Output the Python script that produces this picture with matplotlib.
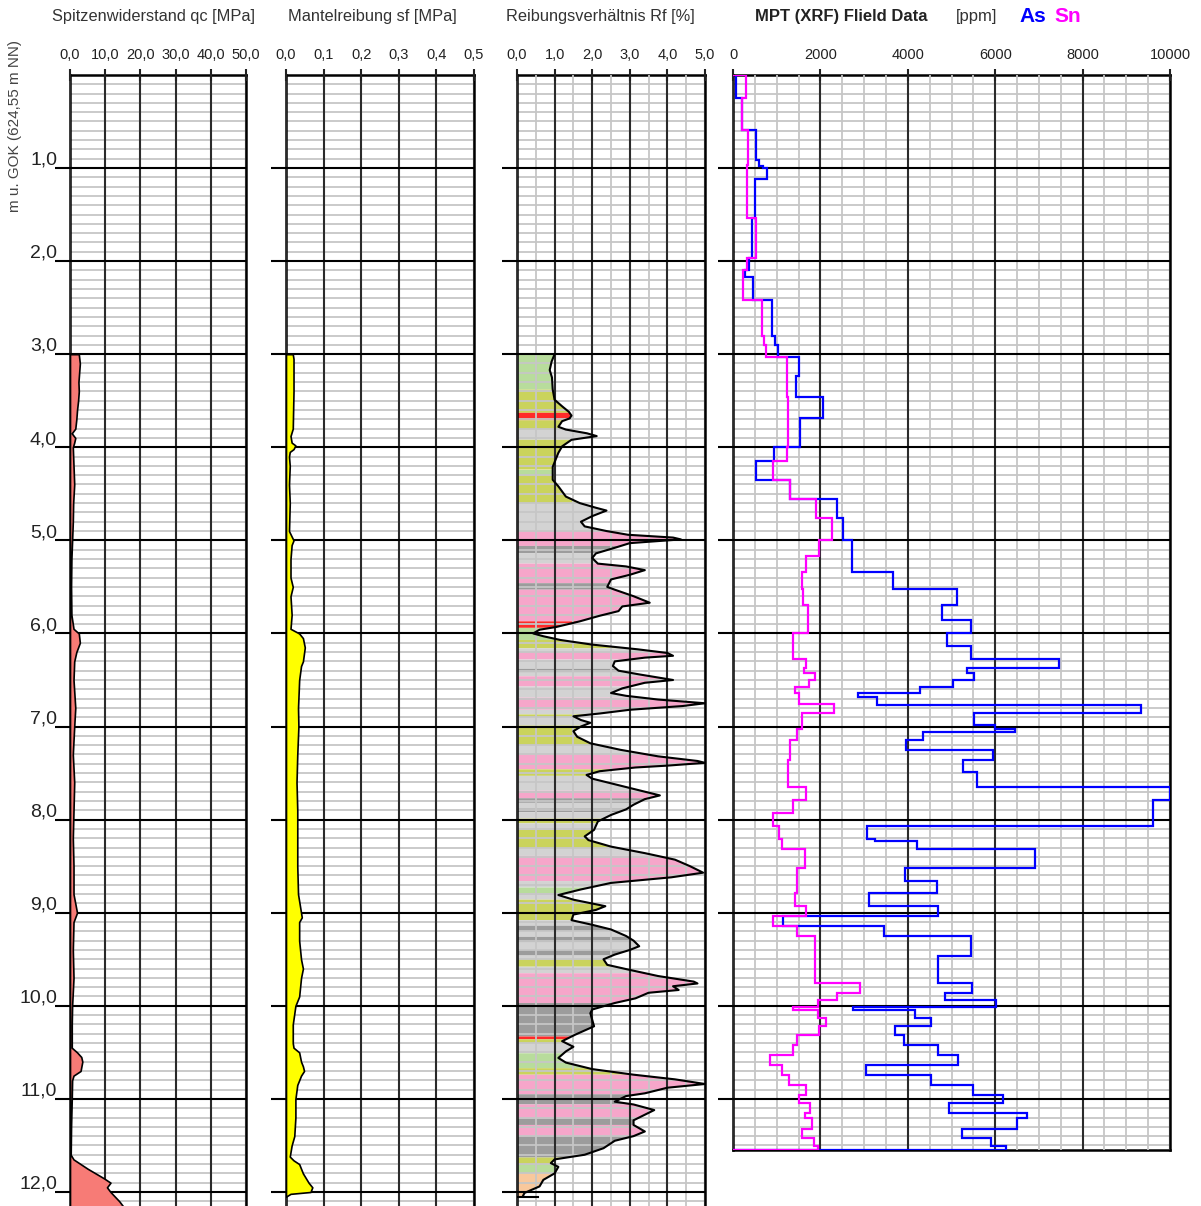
import numpy as np
import matplotlib.pyplot as plt
from matplotlib.transforms import blended_transform_factory

plt.rcParams['font.family'] = ['Liberation Sans', 'DejaVu Sans']

# ---- data (depth in m below ground) ----
qc_depth = [3.0, 3.1, 3.2, 3.3, 3.4, 3.5, 3.6, 3.7, 3.8, 3.85, 3.9, 3.95, 4.0, 4.2, 4.4, 4.6, 4.8,
            5.0, 5.2, 5.5, 5.8, 5.95, 6.0, 6.1, 6.2, 6.3, 6.5, 6.8, 7.0, 7.3, 7.6, 7.9, 8.2, 8.5,
            8.8, 9.0, 9.1, 9.4, 9.7, 10.0, 10.2, 10.45, 10.5, 10.55, 10.6, 10.7, 10.75, 10.8, 11.0,
            11.3, 11.6, 11.65, 11.75, 11.85, 11.9, 11.95, 12.0, 12.1, 12.2]
qc_val = [2.5, 2.8, 2.6, 2.4, 2.5, 2.3, 2.0, 1.8, 1.5, 0.5, 1.5, 1.2, 0.8, 1.0, 1.2, 0.9, 0.8,
          0.6, 0.4, 0.3, 0.4, 1.0, 2.5, 2.8, 1.8, 1.2, 1.0, 1.5, 1.2, 0.8, 1.2, 1.0, 0.8, 1.0,
          1.0, 2.0, 1.0, 0.8, 1.0, 0.6, 0.5, 0.5, 2.0, 3.2, 3.5, 3.0, 1.0, 0.6, 0.5,
          0.3, 0.2, 1.0, 5.0, 9.5, 11.5, 10.5, 11.5, 14.0, 16.0]

sf_depth = [3.0, 3.05, 3.4, 3.8, 3.88, 3.95, 3.98, 4.02, 4.05, 4.1, 4.2, 4.4, 4.6, 4.9, 5.0, 5.05,
            5.2, 5.4, 5.5, 5.6, 5.8, 5.95, 6.0, 6.05, 6.15, 6.3, 6.35, 6.5, 6.8, 7.0, 7.3, 7.6,
            7.9, 8.2, 8.5, 8.8, 9.0, 9.05, 9.1, 9.3, 9.5, 9.6, 9.7, 9.9, 10.0, 10.2, 10.4, 10.45,
            10.5, 10.6, 10.65, 10.7, 10.75, 10.85, 11.0, 11.2, 11.4, 11.5, 11.62, 11.66, 11.7,
            11.8, 11.9, 11.95, 12.0, 12.02, 12.05]
sf_val = [0.018, 0.020, 0.020, 0.018, 0.012, 0.015, 0.025, 0.020, 0.010, 0.008, 0.010, 0.008,
          0.010, 0.008, 0.020, 0.015, 0.012, 0.012, 0.018, 0.012, 0.015, 0.012, 0.035, 0.045,
          0.050, 0.045, 0.040, 0.035, 0.032, 0.033, 0.030, 0.028, 0.030, 0.030, 0.030, 0.032,
          0.040, 0.042, 0.035, 0.035, 0.040, 0.045, 0.040, 0.035, 0.025, 0.018, 0.018, 0.020,
          0.035, 0.040, 0.045, 0.048, 0.040, 0.030, 0.025, 0.025, 0.022, 0.015, 0.010, 0.020,
          0.035, 0.045, 0.060, 0.070, 0.065, 0.012, 0.0]

rf_depth = [3.00, 3.08, 3.17, 3.25, 3.38, 3.49, 3.56, 3.62, 3.66, 3.69, 3.72, 3.78, 3.81, 3.85,
            3.88, 3.92, 3.99, 4.06, 4.21, 4.35, 4.42, 4.53, 4.60, 4.65, 4.68, 4.74, 4.80, 4.85,
            4.90, 4.94, 4.97, 4.99, 5.03, 5.08, 5.14, 5.19, 5.25, 5.28, 5.32, 5.37, 5.42, 5.50,
            5.53, 5.60, 5.67, 5.71, 5.76, 5.81, 5.87, 5.93, 5.96, 6.00, 6.03, 6.07, 6.12, 6.17,
            6.21, 6.24, 6.26, 6.30, 6.35, 6.40, 6.44, 6.50, 6.53, 6.59, 6.64, 6.67, 6.71, 6.75,
            6.78, 6.82, 6.86, 6.89, 6.93, 6.96, 7.00, 7.05, 7.11, 7.18, 7.25, 7.32, 7.37, 7.39,
            7.42, 7.44, 7.48, 7.52, 7.56, 7.61, 7.68, 7.74, 7.78, 7.84, 7.89, 7.95, 8.02, 8.11,
            8.18, 8.22, 8.29, 8.36, 8.43, 8.50, 8.57, 8.62, 8.68, 8.75, 8.81, 8.86, 8.93, 8.97,
            9.02, 9.08, 9.13, 9.18, 9.25, 9.30, 9.36, 9.40, 9.45, 9.50, 9.56, 9.61, 9.68, 9.74,
            9.76, 9.79, 9.83, 9.86, 9.92, 9.97, 10.04, 10.08, 10.15, 10.22, 10.31, 10.35, 10.38,
            10.44, 10.49, 10.56, 10.61, 10.68, 10.74, 10.79, 10.84, 10.88, 10.94, 10.97, 11.03,
            11.06, 11.12, 11.17, 11.23, 11.28, 11.35, 11.40, 11.45, 11.53, 11.60, 11.65, 11.69,
            11.73, 11.80, 11.87, 11.94, 12.01, 12.05]
rf_val = [1.00, 0.92, 0.87, 0.93, 0.95, 1.00, 1.20, 1.38, 1.45, 1.40, 1.20, 1.10, 1.30, 1.86,
          2.12, 1.45, 1.20, 1.10, 0.95, 0.95, 1.10, 1.30, 1.67, 2.10, 2.38, 2.00, 1.70, 1.80,
          2.38, 2.95, 4.15, 4.36, 3.00, 2.60, 2.10, 2.00, 2.15, 2.90, 3.40, 3.00, 2.50, 2.40,
          2.60, 3.10, 3.53, 2.80, 2.70, 2.20, 1.67, 1.05, 0.60, 0.43, 0.70, 1.15, 2.00, 3.20,
          4.00, 4.15, 3.40, 2.60, 2.55, 2.70, 3.25, 4.15, 3.40, 2.80, 2.50, 2.90, 3.75, 5.00,
          4.40, 3.00, 2.20, 1.50, 1.70, 1.95, 1.70, 1.50, 1.60, 1.95, 2.75, 3.75, 4.80, 5.00,
          4.00, 3.15, 2.20, 1.85, 2.00, 2.50, 3.20, 3.80, 3.40, 3.10, 2.90, 2.50, 2.15, 2.05,
          1.80, 1.90, 2.50, 3.40, 4.20, 4.60, 4.95, 4.10, 2.50, 1.70, 1.10, 1.50, 2.35, 2.10,
          1.50, 1.45, 2.00, 2.50, 2.90, 3.10, 3.25, 3.00, 2.60, 2.30, 2.40, 2.95, 3.75, 4.70,
          4.80, 4.15, 4.30, 3.50, 3.15, 2.60, 2.00, 1.95, 2.00, 2.05, 1.55, 1.35, 1.20,
          1.50, 1.30, 1.10, 1.30, 2.00, 3.10, 4.20, 5.00, 4.00, 3.40, 2.90, 2.60,
          3.10, 3.65, 3.40, 3.10, 3.10, 3.40, 3.10, 2.60, 2.30, 1.80, 1.00, 0.90,
          1.10, 1.00, 0.70, 0.60, 0.20, 0.15]

# soil classes along the Rf log: top, bottom, class
band_top = [3.00, 3.38, 3.63, 3.71, 3.81, 3.92, 4.24, 4.30, 4.60, 4.90, 5.06, 5.14, 5.25, 5.46,
            5.53, 5.87, 5.94, 6.07, 6.16, 6.20, 6.28, 6.38, 6.42, 6.46, 6.57, 6.69, 6.82, 6.87,
            6.90, 6.99, 7.20, 7.30, 7.46, 7.53, 7.69, 7.77, 7.82, 7.88, 7.92, 7.99, 8.04, 8.11,
            8.31, 8.39, 8.66, 8.73, 8.79, 8.86, 9.08, 9.14, 9.20, 9.26, 9.32, 9.40, 9.46, 9.50,
            9.58, 9.65, 9.97, 10.33, 10.36, 10.40, 10.51, 10.67, 10.74, 10.95, 11.06, 11.21,
            11.28, 11.40, 11.63, 11.70, 11.80]
band_bottom = band_top[1:] + [12.05]
band_class = ['g', 'o', 'r', 'o', 'l', 'o', 'g', 'o', 'l', 'p', 'd', 'l', 'p', 'd',
              'p', 'r', 'g', 'o', 'l', 'p', 'l', 'd', 'l', 'p', 'l', 'p', 'l', 'o',
              'l', 'o', 'l', 'p', 'o', 'l', 'p', 'd', 'l', 'd', 'l', 'o', 'l', 'o',
              'l', 'p', 'l', 'g', 'l', 'o', 'l', 'd', 'l', 'd', 'l', 'd', 'l', 'o',
              'l', 'p', 'd', 'r', 'o', 'l', 'g', 'o', 'p', 'd', 'p', 'd',
              'p', 'd', 'o', 'g', 'a']
class_colors = {'g': '#b8dc9c', 'o': '#cad35c', 'r': '#ff2a2a', 'l': '#d3d3d3',
                'd': '#9c9c9c', 'p': '#f6a6ca', 'a': '#f8c89c'}

# XRF step data: top of each interval, last value ends at xrf_bottom
as_top = [0.0, 0.25, 0.59, 0.91, 0.975, 1.0, 1.12, 1.54, 1.97, 2.1, 2.17, 2.42, 2.8, 2.9, 3.03,
          3.23, 3.46, 3.69, 4.0, 4.15, 4.35, 4.56, 4.76, 5.0, 5.34, 5.52, 5.69, 5.86, 6.0, 6.14,
          6.27, 6.37, 6.43, 6.5, 6.58, 6.64, 6.68, 6.77, 6.85, 6.98, 7.03, 7.06, 7.14, 7.25,
          7.36, 7.49, 7.65, 7.79, 8.07, 8.21, 8.23, 8.32, 8.52, 8.66, 8.79, 8.93, 9.03, 9.14,
          9.25, 9.46, 9.76, 9.86, 9.94, 10.01, 10.05, 10.13, 10.22, 10.31, 10.42, 10.53, 10.64,
          10.74, 10.85, 10.96, 11.04, 11.15, 11.21, 11.32, 11.42, 11.51]
as_ppm = [60, 200, 520, 600, 680, 780, 500, 440, 365, 275, 460, 885, 960, 1035, 1510,
          1440, 2050, 1530, 940, 526, 1300, 2380, 2510, 2715, 3660, 5120, 4775, 5440, 4890, 5440,
          7460, 5360, 5510, 5030, 4280, 2860, 3300, 9330, 5520, 6000, 6450, 4340, 3970, 5950,
          5270, 5590, 10000, 9610, 3070, 3250, 4200, 6900, 3940, 4660, 3120, 4700, 1150, 3460,
          5440, 4680, 5460, 4850, 6020, 2740, 4165, 4530, 3710, 3910, 4690, 5140, 3040,
          4530, 5490, 6180, 4950, 6730, 6490, 5240, 5900, 6240]
sn_top = [0.0, 0.25, 0.59, 0.97, 1.54, 1.97, 2.1, 2.42, 2.8, 2.9, 3.03, 3.46, 4.0, 4.15, 4.35,
          4.56, 4.76, 5.0, 5.17, 5.34, 5.52, 5.69, 6.0, 6.27, 6.37, 6.43, 6.5, 6.58, 6.64, 6.76,
          6.85, 7.03, 7.14, 7.36, 7.65, 7.79, 7.93, 8.07, 8.21, 8.32, 8.52, 8.79, 8.93, 9.03,
          9.14, 9.25, 9.76, 9.86, 9.94, 10.01, 10.05, 10.13, 10.22, 10.31, 10.42, 10.53, 10.64,
          10.74, 10.85, 10.96, 11.04, 11.15, 11.21, 11.32, 11.42, 11.51]
sn_ppm = [300, 200, 350, 320, 526, 320, 230, 656, 700, 750, 1230, 1260, 1230, 908, 1300,
          1900, 2260, 1970, 1670, 1570, 1610, 1710, 1370, 1670, 1620, 1880, 1750, 1410, 1520, 2300,
          1570, 1460, 1300, 1270, 1670, 1370, 920, 1050, 1130, 1650, 1460, 1420, 1680, 920,
          1460, 1880, 2900, 2380, 1950, 1370, 1950, 2130, 1960, 1470, 1370, 850, 1130,
          1290, 1670, 1520, 1760, 1650, 1800, 1570, 1850, 1950]
xrf_bottom = 11.55

qc_ticks = ['0,0', '10,0', '20,0', '30,0', '40,0', '50,0']
sf_ticks = ['0,0', '0,1', '0,2', '0,3', '0,4', '0,5']
rf_ticks = ['0,0', '1,0', '2,0', '3,0', '4,0', '5,0']
xrf_ticks = ['0', '2000', '4000', '6000', '8000', '10000']
depth_labels = ['1,0', '2,0', '3,0', '4,0', '5,0', '6,0', '7,0', '8,0', '9,0', '10,0', '11,0', '12,0']

# ---- layout ----
W, H = 1201, 1206
fig = plt.figure(figsize=(W / 100, H / 100), dpi=100)
PXM = 93.09   # pixels per metre
Y0 = 74.9     # pixel row of depth 0


def depth_at(ypx):
    return (ypx - Y0) / PXM


def make_panel(xl, xr, yb, xmax, minor, labels):
    ax = fig.add_axes([xl / W, 1 - yb / H, (xr - xl) / W, (yb - Y0) / H])
    dmax = depth_at(yb)
    ax.set_axisbelow(False)
    ax.set_xticks(np.linspace(0, xmax, 6))
    ax.set_xticklabels(labels)
    ax.xaxis.tick_top()
    ax.tick_params(axis='x', which='major', direction='inout', length=8, width=1.5,
                   labelsize=10.5, pad=5, colors='#222222')
    ax.set_yticks(np.arange(1, int(dmax) + 1))
    ax.set_yticklabels([])
    ax.tick_params(axis='y', which='major', direction='out', length=11, width=1.5)
    ax.tick_params(axis='x', which='minor', length=0)
    # light 0.1 m lines kept under the vertical grid
    ax.hlines(np.arange(0.1, dmax, 0.1), 0, xmax, color='#c6c6c6', lw=1.3, zorder=1.5)
    ax.grid(axis='y', which='major', color='black', lw=1.5)
    ax.grid(axis='x', which='major', color='#2a2a2a', lw=1.5)
    if minor:
        ax.set_xticks(np.arange(0, xmax + 1e-9, minor), minor=True)
        ax.grid(axis='x', which='minor', color='#c6c6c6', lw=1.3)
    ax.set_xlim(0, xmax)
    ax.set_ylim(dmax, 0)
    for s in ax.spines.values():
        s.set_linewidth(1.8)
        s.set_color('black')
    return ax


ax_qc = make_panel(70, 246, H, 50, None, qc_ticks)
ax_sf = make_panel(286, 474, H, 0.5, None, sf_ticks)
ax_rf = make_panel(517, 705, H, 5.0, 0.5, rf_ticks)
ax_x = make_panel(733, 1170, 1150, 10000, 500, xrf_ticks)
for a in (ax_qc, ax_sf, ax_rf):
    a.spines['bottom'].set_visible(False)

# qc and sf fills
ax_qc.fill_betweenx(qc_depth, 0, qc_val, facecolor='#f77b76', edgecolor='black', lw=1.2, zorder=3)
ax_sf.fill_betweenx(sf_depth, 0, sf_val, facecolor='#ffff00', edgecolor='black', lw=1.2, zorder=3)

# Rf coloured by soil class
rd = np.array(rf_depth)
rv = np.array(rf_val)
for t, b, c in zip(band_top, band_bottom, band_class):
    inner = rd[(rd > t) & (rd < b)]
    d = np.concatenate([[t], inner, [b]])
    v = np.interp(d, rd, rv)
    ax_rf.fill_betweenx(d, 0, v, facecolor=class_colors[c], lw=0, zorder=1)
ax_rf.plot(rf_val, rf_depth, color='black', lw=1.5, zorder=3)
ax_rf.plot([0, rf_val[-1] + 0.4], [rf_depth[-1], rf_depth[-1]], color='black', lw=1.5, zorder=3)

# XRF step logs
ax_x.stairs(as_ppm, as_top + [xrf_bottom], orientation='horizontal', baseline=0,
            color='#0000ff', lw=1.6, zorder=3)
ax_x.stairs(sn_ppm, sn_top + [xrf_bottom], orientation='horizontal', baseline=0,
            color='#ff00ff', lw=1.6, zorder=4)

# depth labels
tr = blended_transform_factory(fig.transFigure, ax_qc.transData)
for i, lab in enumerate(depth_labels):
    ax_qc.text(57 / W, i + 1 - 0.035, lab, transform=tr, ha='right', va='baseline',
               fontsize=14, color='#222222', clip_on=False)
fig.text(15 / W, 1 - 126 / H, 'm u. GOK (624,55 m NN)', rotation=90, ha='center', va='center',
         fontsize=11, color='#444444')

# headers
ty = 1 - 16 / H
fig.text(153 / W, ty, 'Spitzenwiderstand qc [MPa]', ha='center', va='center', fontsize=11.8, color='#333333')
fig.text(372 / W, ty, 'Mantelreibung sf [MPa]', ha='center', va='center', fontsize=11.8, color='#333333')
fig.text(600 / W, ty, 'Reibungsverhältnis Rf [%]', ha='center', va='center', fontsize=11.8, color='#333333')
fig.text(755 / W, ty, 'MPT (XRF) Flield Data', ha='left', va='center', fontsize=12,
         fontweight='bold', color='#222222')
fig.text(956 / W, ty, '[ppm]', ha='left', va='center', fontsize=12, color='#333333')
fig.text(1019 / W, ty, 'As', ha='left', va='center', fontsize=15, fontweight='bold', color='#0000ff')
fig.text(1054 / W, ty, 'Sn', ha='left', va='center', fontsize=15, fontweight='bold', color='#ff00ff')

fig.savefig('out.png', dpi=100)
